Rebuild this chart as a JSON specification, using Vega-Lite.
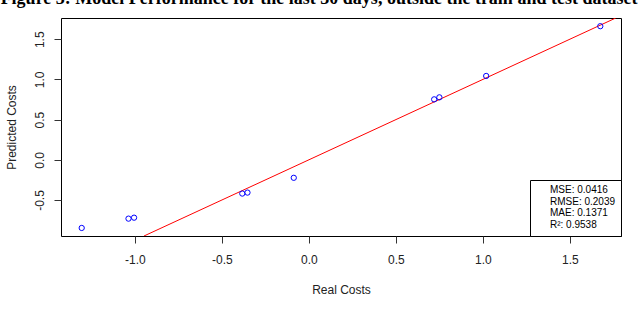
{
  "$schema": "https://vega.github.io/schema/vega-lite/v6.json",
  "width": 560,
  "height": 218,
  "autosize": {"type": "none"},
  "padding": {"left": 61, "top": 18, "right": 19, "bottom": 75},
  "background": "white",
  "title": {
    "text": "Figure 3: Model Performance for the last 30 days, outside the train and test dataset",
    "font": "Liberation Serif",
    "fontSize": 18,
    "fontWeight": "bold",
    "color": "black",
    "anchor": "middle",
    "frame": "group",
    "baseline": "bottom",
    "offset": 8,
    "dx": -22,
    "dy": 16
  },
  "config": {
    "view": {"stroke": "black", "strokeWidth": 1},
    "axis": {
      "domain": false,
      "grid": false,
      "tickColor": "#333",
      "tickSize": 7,
      "tickWidth": 1,
      "labelFont": "Liberation Sans",
      "labelFontSize": 12,
      "labelColor": "#222",
      "labelFlush": false,
      "labelOverlap": false,
      "titleFont": "Liberation Sans",
      "titleFontSize": 12,
      "titleFontWeight": "normal",
      "titleColor": "#222"
    }
  },
  "layer": [
    {
      "data": {"values": [{"real": -0.948, "pred": -0.948}, {"real": 1.764, "pred": 1.764}]},
      "mark": {"type": "line", "color": "red", "strokeWidth": 1, "clip": true},
      "encoding": {
        "x": {"field": "real", "type": "quantitative", "scale": {"domain": [-1.425, 1.794], "nice": false, "zero": false},
          "axis": {"values": [-1, -0.5, 0, 0.5, 1, 1.5], "labelExpr": "replace(format(datum.value, '.1f'), '\u2212', '-')", "labelBaseline": "alphabetic", "labelPadding": 20, "title": "Real Costs", "titleX": 280, "titleY": 57, "titleBaseline": "alphabetic", "titleAnchor": "middle"}},
        "y": {"field": "pred", "type": "quantitative", "scale": {"domain": [-0.948, 1.764], "nice": false, "zero": false},
          "axis": {"values": [-0.5, 0, 0.5, 1, 1.5], "labelExpr": "replace(format(datum.value, '.1f'), '\u2212', '-')", "labelAngle": -90, "labelAlign": "center", "labelBaseline": "alphabetic", "labelPadding": 10.5, "title": "Predicted Costs", "titleX": -46, "titleY": 109, "titleAngle": -90, "titleAlign": "center", "titleBaseline": "alphabetic"}}
      }
    },
    {
      "data": {"values": [
        {"real": -1.306, "pred": -0.848},
        {"real": -1.037, "pred": -0.732},
        {"real": -1.005, "pred": -0.72},
        {"real": -0.383, "pred": -0.42},
        {"real": -0.353, "pred": -0.408},
        {"real": -0.087, "pred": -0.224},
        {"real": 0.72, "pred": 0.752},
        {"real": 0.75, "pred": 0.777},
        {"real": 1.019, "pred": 1.043},
        {"real": 1.675, "pred": 1.662}
      ]},
      "mark": {"type": "point", "shape": "circle", "filled": false, "color": "blue", "size": 28, "strokeWidth": 1, "opacity": 1},
      "encoding": {
        "x": {"field": "real", "type": "quantitative"},
        "y": {"field": "pred", "type": "quantitative"}
      }
    },
    {
      "data": {"values": [
        {"stat": "MSE: 0.0416"},
        {"stat": "RMSE: 0.2039"},
        {"stat": "MAE: 0.1371"},
        {"stat": "R²: 0.9538"}
      ]},
      "mark": {"type": "point", "opacity": 0},
      "encoding": {
        "color": {"field": "stat", "type": "nominal", "sort": null, "scale": {"range": ["black"]},
          "legend": {"title": null, "orient": "bottom-right", "offset": 0, "strokeColor": "black", "fillColor": "white", "padding": 5, "symbolSize": 0, "symbolOpacity": 0, "symbolStrokeWidth": 0, "labelOffset": 5, "labelFont": "Liberation Sans", "labelFontSize": 10, "labelColor": "black", "rowPadding": 1.7, "labelLimit": 200}}
      }
    }
  ]
}
